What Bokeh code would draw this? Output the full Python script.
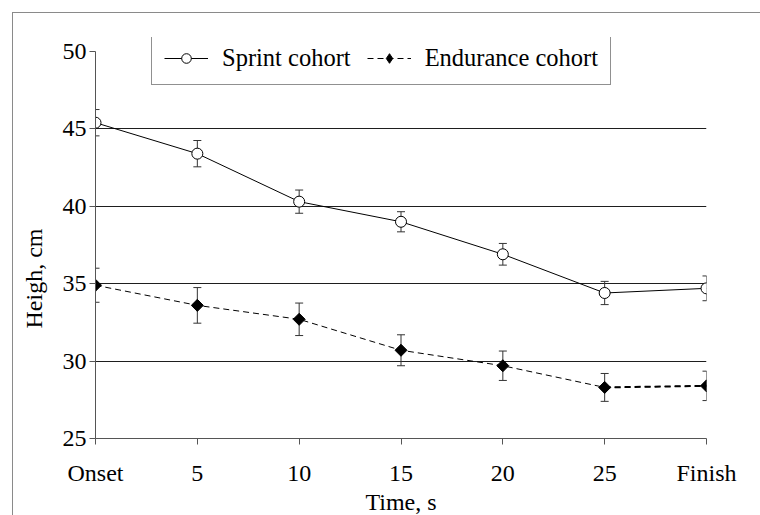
from bokeh.plotting import figure
from bokeh.models import (Range1d, FixedTicker, Whisker, TeeHead, ColumnDataSource,
                          Legend, LegendItem, Title)
from bokeh.embed import file_html
from bokeh.resources import INLINE
import math

categories = ["Onset", "5", "10", "15", "20", "25", "Finish"]
sprint = [45.4, 43.4, 40.3, 39.0, 36.9, 34.4, 34.7]
sprint_err = [0.85, 0.85, 0.75, 0.65, 0.7, 0.75, 0.8]
endurance = [34.9, 33.6, 32.7, 30.7, 29.7, 28.3, 28.4]
endurance_err = [1.1, 1.15, 1.05, 1.0, 0.95, 0.9, 0.95]
y_ticks = [25, 30, 35, 40, 45, 50]
grid_ticks = [30, 35, 40, 45]

FONT = "Liberation Serif"
x = list(range(len(categories)))

src_s = ColumnDataSource(dict(x=x, y=sprint,
                              lo=[v - e for v, e in zip(sprint, sprint_err)],
                              hi=[v + e for v, e in zip(sprint, sprint_err)]))
src_e = ColumnDataSource(dict(x=x, y=endurance,
                              lo=[v - e for v, e in zip(endurance, endurance_err)],
                              hi=[v + e for v, e in zip(endurance, endurance_err)]))
src_e_last = ColumnDataSource(dict(x=x[-2:], y=endurance[-2:]))

Y_TOP = 50.904  # head-room above 50 so the legend box is not clipped

p = figure(frame_width=611, frame_height=401,
           min_border_left=95, min_border_right=54,
           min_border_top=37, min_border_bottom=77,
           x_range=Range1d(0, len(categories) - 1), y_range=Range1d(25, Y_TOP),
           output_backend="svg", toolbar_location=None,
           outline_line_color=None, background_fill_color="white",
           border_fill_color="white", border_fill_alpha=0)
p.extra_y_ranges = {"legend_only": Range1d(0, 1)}

# thin grey frame line on the left and top of the whole picture
p.styles = {
    "background": ("linear-gradient(#8a8a8a, #8a8a8a) 12px 12px / 1px 100% no-repeat, "
                   "linear-gradient(#8a8a8a, #8a8a8a) 12px 12px / 100% 1px no-repeat, white"),
}

# grid
p.xgrid.visible = False
p.ygrid.ticker = FixedTicker(ticks=grid_ticks)
p.ygrid.grid_line_color = "#1e1e1e"
p.ygrid.grid_line_width = 1

# axes
for ax in (p.xaxis[0], p.yaxis[0]):
    ax.axis_line_color = "#555555"
    ax.major_tick_line_color = "#555555"
    ax.minor_tick_line_color = None
    ax.major_tick_in = 0
    ax.major_tick_out = 6
    ax.major_label_text_font = FONT
    ax.major_label_text_font_size = "24px"
    ax.major_label_text_color = "black"

p.xaxis.ticker = FixedTicker(ticks=x)
p.xaxis.major_label_overrides = {i: c for i, c in enumerate(categories)}
p.xaxis.major_label_standoff = 15
p.xaxis.axis_label = "Time, s"
p.xaxis.axis_label_text_font = FONT
p.xaxis.axis_label_text_font_size = "24px"
p.xaxis.axis_label_text_font_style = "normal"
p.xaxis.axis_label_text_color = "black"
p.xaxis.axis_label_standoff = 0

p.yaxis.ticker = FixedTicker(ticks=y_ticks)
p.yaxis.bounds = (25, 50)
p.yaxis.major_label_standoff = 3

p.add_layout(Title(text="Heigh, cm", align="left", offset=110, text_font=FONT,
                   text_font_size="24px", text_font_style="normal",
                   text_color="black", standoff=25), "left")

# error bars
for src in (src_s, src_e):
    w = Whisker(source=src, base="x", upper="hi", lower="lo",
                line_color="#333333", line_width=1,
                upper_head=TeeHead(size=8, line_color="#333333", line_width=1),
                lower_head=TeeHead(size=8, line_color="#333333", line_width=1))
    p.add_layout(w)

# lines & markers
l_s = p.line("x", "y", source=src_s, line_color="black", line_width=1)
m_s = p.scatter("x", "y", source=src_s, marker="circle", size=11,
                fill_color="white", line_color="black", line_width=1)

l_e = p.line("x", "y", source=src_e, line_color="black", line_width=1,
             line_dash="6 4")
p.line("x", "y", source=src_e_last, line_color="black", line_width=2,
       line_dash="6 4")
m_e = p.scatter("x", "y", source=src_e, marker="square", angle=math.pi / 4,
                size=8.5, fill_color="black", line_color="black")
# legend swatch for the diamond (legend markers are drawn unrotated);
# it lives on a range where it is never visible in the plot itself
m_e_leg = p.scatter(x=x[:1], y=endurance[:1], marker="diamond",
                    fill_color="black", line_color="black",
                    y_range_name="legend_only")

legend = Legend(items=[LegendItem(label="Sprint cohort", renderers=[l_s, m_s]),
                       LegendItem(label="Endurance cohort", renderers=[l_e, m_e_leg])],
                location=(56, 353), orientation="horizontal",
                label_text_font=FONT, label_text_font_size="24.5px",
                label_text_color="black", glyph_width=44, glyph_height=24,
                label_height=26, label_standoff=14,
                spacing=16, padding=12, margin=0,
                border_line_color="#222222", border_line_width=1,
                background_fill_color="white", background_fill_alpha=1)
p.add_layout(legend, "center")

open("out.html", "w").write(file_html(p, INLINE))
